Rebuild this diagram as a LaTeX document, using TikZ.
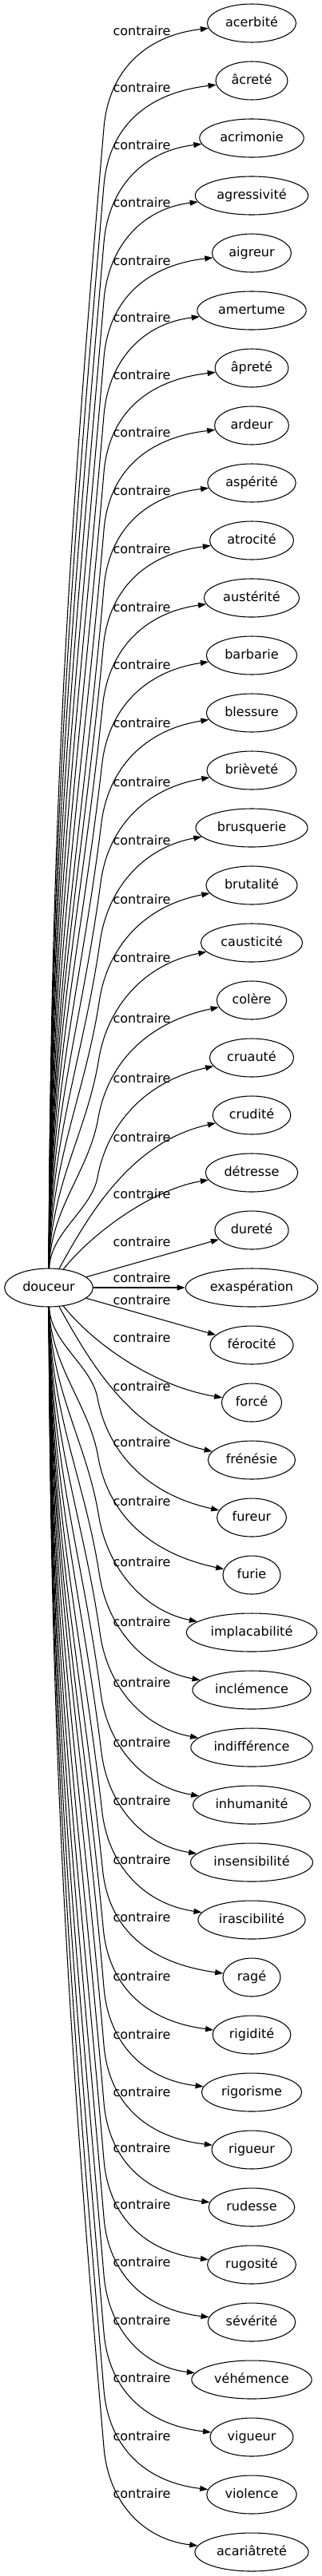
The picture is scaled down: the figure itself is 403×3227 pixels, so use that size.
\documentclass[tikz,border=0pt]{standalone}
\usepackage{fontspec}
\setmainfont{DejaVu Sans}
\usetikzlibrary{shapes.geometric,arrows.meta}

\tikzset{
  word/.style={draw, ellipse, line width=0.8pt, inner xsep=4.8pt, inner ysep=1pt,
    minimum height=36pt, minimum width=54pt,
    font=\fontsize{12pt}{14pt}\selectfont, text height=9pt, text depth=2.5pt},
  rel/.style={inner sep=0pt, font=\fontsize{12pt}{14pt}\selectfont,
    text height=9pt, text depth=2.5pt},
  contra/.style={line width=0.8pt, -{Triangle[length=7.5pt,width=5.25pt]}},
}

\begin{document}
\begin{tikzpicture}[x=0.75pt,y=-0.75pt]
  \useasboundingbox (0,0) rectangle (403,3227);

  \node[word] (douceur) at (61,1613) {douceur};

  % one column of opposites, 72px apart
  \foreach \nm/\word/\ly [count=\i from 0] in {
    acerbite/acerbité/40, acrete/âcreté/111, acrimonie/acrimonie/183,
    agressivite/agressivité/255, aigreur/aigreur/328, amertume/amertume/399,
    aprete/âpreté/471, ardeur/ardeur/543, asperite/aspérité/616,
    atrocite/atrocité/689, austerite/austérité/762, barbarie/barbarie/834,
    blessure/blessure/907, brievete/brièveté/981, brusquerie/brusquerie/1054,
    brutalite/brutalité/1128, causticite/causticité/1201, colere/colère/1277,
    cruaute/cruauté/1352, crudite/crudité/1426, detresse/détresse/1497,
    durete/dureté/1557, exasperation/exaspération/1602, ferocite/férocité/1630,
    force/forcé/1677, frenesie/frénésie/1738, fureur/fureur/1808,
    furie/furie/1882, implacabilite/implacabilité/1958, inclemence/inclémence/2033,
    indifference/indifférence/2109, inhumanite/inhumanité/2184,
    insensibilite/insensibilité/2257, irascibilite/irascibilité/2331,
    rage/ragé/2403, rigidite/rigidité/2477, rigorisme/rigorisme/2550,
    rigueur/rigueur/2622, rudesse/rudesse/2692, rugosite/rugosité/2763,
    severite/sévérité/2835, vehemence/véhémence/2908, vigueur/vigueur/2980,
    violence/violence/3053, acariatrete/acariâtreté/3125}{
    \pgfmathsetmacro\ty{29+72*\i}
    \node[word] (\nm) at (315,\ty) {\word};
    \node[rel] (lab\nm) at (177.5,\ly) {contraire};
    \pgfmathtruncatemacro\ady{abs(1613-\ty)}
    \ifnum\i<22 \def\sg{1}\else\def\sg{-1}\fi
    \ifnum\ady<100
      \draw[contra] (douceur) -- (\nm);
    \else\ifnum\ady<200
      \draw[contra] (douceur) .. controls (115,{1613-(\sg)*68}) and (190,{\ty+(\sg)*21}) .. (\nm);
    \else\ifnum\ady<250
      \draw[contra] (douceur) .. controls (112,{1613-(\sg)*93}) and (165,{\ty+(\sg)*33}) .. (\nm);
    \else
      \pgfmathsetmacro\fr{min(1,(\ady-288)/712)}
      \pgfmathsetmacro\xA{122+8*\fr}
      \pgfmathsetmacro\hA{150-19*\fr}
      \pgfmathsetmacro\xB{134+2*\fr}
      \pgfmathsetmacro\hB{85-24*\fr}
      \pgfmathsetmacro\hC{30-14*\fr}
      \pgfmathsetmacro\lenA{\ady-23-\hA}
      \pgfmathsetmacro\xP{\xA-(\xB-\xA)/(\hA-\hB)*0.35*\lenA}
      \draw[contra] (douceur) .. controls (63,{1613-(\sg)*(23+0.4*\lenA)})
        and (\xP,{\ty+(\sg)*(\hA+0.35*\lenA)}) .. (\xA,{\ty+(\sg)*\hA})
        .. controls (\xB,{\ty+(\sg)*\hB}) and (180,{\ty+(\sg)*\hC}) .. (\nm);
    \fi\fi\fi
  }
\end{tikzpicture}
\end{document}
